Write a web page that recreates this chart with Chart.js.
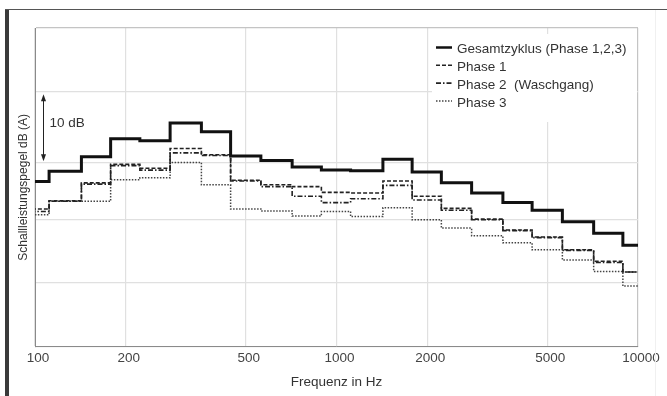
<!DOCTYPE html>
<html>
<head>
<meta charset="utf-8">
<script src="https://cdn.jsdelivr.net/npm/chart.js@4/dist/chart.umd.min.js"></script>
<style>
  html, body { margin: 0; padding: 0; background: #fff; }
  #wrap { width: 667px; height: 396px; }
</style>
</head>
<body>
<div id="wrap"><canvas id="myChart" width="667" height="396"></canvas></div>
<script>
// Terzbaender (Mittenfrequenz in Hz)
const bandCenters = [100, 125, 160, 200, 250, 315, 400, 500, 630, 800, 1000, 1250, 1600, 2000, 2500, 3150, 4000, 5000, 6300, 8000, 10000];

// Schallleistungspegel in dB(A)
const gesamt = [65.9, 67.5, 69.8, 72.6, 72.3, 75.1, 73.7, 69.9, 69.2, 68.2, 67.7, 67.6, 69.4, 67.4, 65.7, 64.1, 62.6, 61.4, 59.6, 57.8, 55.9];
const phase1 = [61.6, 62.9, 65.7, 68.6, 68.0, 71.1, 70.1, 66.1, 65.4, 65.1, 64.2, 64.1, 66.0, 63.6, 61.7, 60.0, 58.3, 57.2, 55.2, 53.4, 51.7];
const phase2 = [61.2, 62.8, 65.5, 68.4, 67.7, 70.4, 70.0, 66.0, 65.1, 63.6, 62.6, 63.2, 65.3, 63.0, 61.4, 59.9, 58.2, 57.1, 55.1, 53.2, 51.7];
const phase3 = [60.7, 62.8, 62.8, 66.2, 66.5, 68.9, 65.4, 61.6, 61.3, 60.5, 61.2, 60.4, 61.8, 59.9, 58.6, 57.4, 56.3, 55.2, 53.6, 51.8, 49.5];

const seriesLabels = ['Gesamtzyklus (Phase 1,2,3)', 'Phase 1', 'Phase 2  (Waschgang)', 'Phase 3'];
const xTickValues = [100, 200, 500, 1000, 2000, 5000, 10000];
const yGridValues = [40, 50, 60, 68.8, 80, 90];
const arrowDb = [79.6, 69.1];
const arrowLabel = '10 dB';

const FONT = "'Liberation Sans', Arial, sans-serif";
const third = Math.pow(2, 1 / 6);

// Stufen: jede Terz geht von f/2^(1/6) bis f*2^(1/6)
function toSteps(values) {
    var pts = bandCenters.map(function (f, i) {
        return { x: f / third, y: values[i] };
    });
    var last = bandCenters.length - 1;
    pts.push({ x: bandCenters[last] * third, y: values[last] });
    return pts;
}

function lineSet(label, values, width, dash, color) {
    return {
        label: label,
        data: toSteps(values),
        stepped: true,
        borderColor: color,
        borderWidth: width,
        borderDash: dash,
        pointRadius: 0,
        fill: false
    };
}

const framePlugin = {
    id: 'frame',
    afterDraw: function (chart) {
        var ctx = chart.ctx;
        ctx.save();
        ctx.fillStyle = '#3a3a3a';
        ctx.fillRect(5, 9, 4, 387);
        ctx.fillStyle = '#555';
        ctx.fillRect(5, 9, 662, 1);
        ctx.fillStyle = '#f0f0f0';
        ctx.fillRect(655, 10, 1, 386);
        ctx.restore();
    }
};

const annotationPlugin = {
    id: 'annot',
    afterDatasetsDraw: function (chart) {
        var ctx = chart.ctx;
        var y = chart.scales.y;
        var area = chart.chartArea;
        var x0 = area.left + 8.5;
        var yTop = y.getPixelForValue(arrowDb[0]);
        var yBot = y.getPixelForValue(arrowDb[1]);
        ctx.save();
        ctx.strokeStyle = '#222';
        ctx.fillStyle = '#222';
        ctx.lineWidth = 1;
        ctx.beginPath();
        ctx.moveTo(x0, yTop + 3);
        ctx.lineTo(x0, yBot - 3);
        ctx.stroke();
        ctx.beginPath();
        ctx.moveTo(x0, yTop);
        ctx.lineTo(x0 - 2.5, yTop + 7);
        ctx.lineTo(x0 + 2.5, yTop + 7);
        ctx.closePath();
        ctx.fill();
        ctx.beginPath();
        ctx.moveTo(x0, yBot);
        ctx.lineTo(x0 - 2.5, yBot - 7);
        ctx.lineTo(x0 + 2.5, yBot - 7);
        ctx.closePath();
        ctx.fill();
        ctx.font = '13.5px ' + FONT;
        ctx.fillStyle = '#333';
        ctx.textBaseline = 'middle';
        ctx.fillText(arrowLabel, x0 + 6, (yTop + yBot) / 2 - 4);

        // Legende im Diagramm, oben rechts
        var lx = 432, ly = 34;
        ctx.fillStyle = '#fff';
        ctx.fillRect(lx, ly, area.right - lx - 1, 88);
        ctx.textBaseline = 'middle';
        chart.data.datasets.forEach(function (ds, i) {
            var cy = 49.5 + i * 17.8;
            ctx.strokeStyle = ds.borderColor;
            ctx.lineWidth = Math.min(ds.borderWidth, 2.5);
            ctx.setLineDash(ds.borderDash);
            ctx.beginPath();
            ctx.moveTo(436, cy - 2);
            ctx.lineTo(452, cy - 2);
            ctx.stroke();
            ctx.setLineDash([]);
            ctx.fillStyle = '#333';
            ctx.fillText(ds.label, 457, cy);
        });
        ctx.restore();
    }
};

const ctx = document.getElementById('myChart').getContext('2d');
const myChart = new Chart(ctx, {
    type: 'line',
    data: {
        datasets: [
            lineSet(seriesLabels[0], gesamt, 3, [], '#111'),
            lineSet(seriesLabels[1], phase1, 1.6, [4, 2], '#222'),
            lineSet(seriesLabels[2], phase2, 1.6, [5, 2, 1.5, 2], '#222'),
            lineSet(seriesLabels[3], phase3, 1.5, [1.5, 1.5], '#444')
        ]
    },
    options: {
        responsive: false,
        animation: false,
        layout: { padding: { left: 12.6, right: 29, top: 28, bottom: 2 } },
        plugins: {
            legend: { display: false },
            tooltip: { enabled: false }
        },
        scales: {
            x: {
                type: 'logarithmic',
                min: 100,
                max: 10000,
                afterBuildTicks: function (scale) {
                    scale.ticks = xTickValues.map(function (v) { return { value: v }; });
                },
                ticks: {
                    autoSkip: false,
                    maxRotation: 0,
                    padding: 4,
                    labelOffset: 3,
                    color: '#444',
                    font: { family: FONT, size: 13.5 },
                    callback: function (v) { return String(v); }
                },
                grid: {
                    drawTicks: false,
                    color: function (c) { return c.tick && c.tick.value === 10000 ? '#c4c4c4' : '#e0e0e0'; },
                    lineWidth: 1.2
                },
                border: { display: true, color: '#8a8a8a', width: 1 },
                title: {
                    display: true,
                    text: 'Frequenz in Hz',
                    color: '#333',
                    padding: { top: 3, bottom: 4 },
                    font: { family: FONT, size: 13.5 }
                }
            },
            y: {
                type: 'linear',
                min: 40,
                max: 90,
                afterBuildTicks: function (scale) {
                    scale.ticks = yGridValues.map(function (v) { return { value: v }; });
                },
                ticks: { display: false },
                grid: {
                    drawTicks: false,
                    color: function (c) { return c.tick && c.tick.value === 90 ? '#c4c4c4' : '#e0e0e0'; },
                    lineWidth: 1.2
                },
                border: { display: true, color: '#8a8a8a', width: 1 },
                title: {
                    display: true,
                    text: 'Schallleistungspegel dB (A)',
                    color: '#333',
                    padding: { top: 4, bottom: 4 },
                    font: { family: FONT, size: 12 }
                }
            }
        }
    },
    plugins: [framePlugin, annotationPlugin]
});
</script>
</body>
</html>
